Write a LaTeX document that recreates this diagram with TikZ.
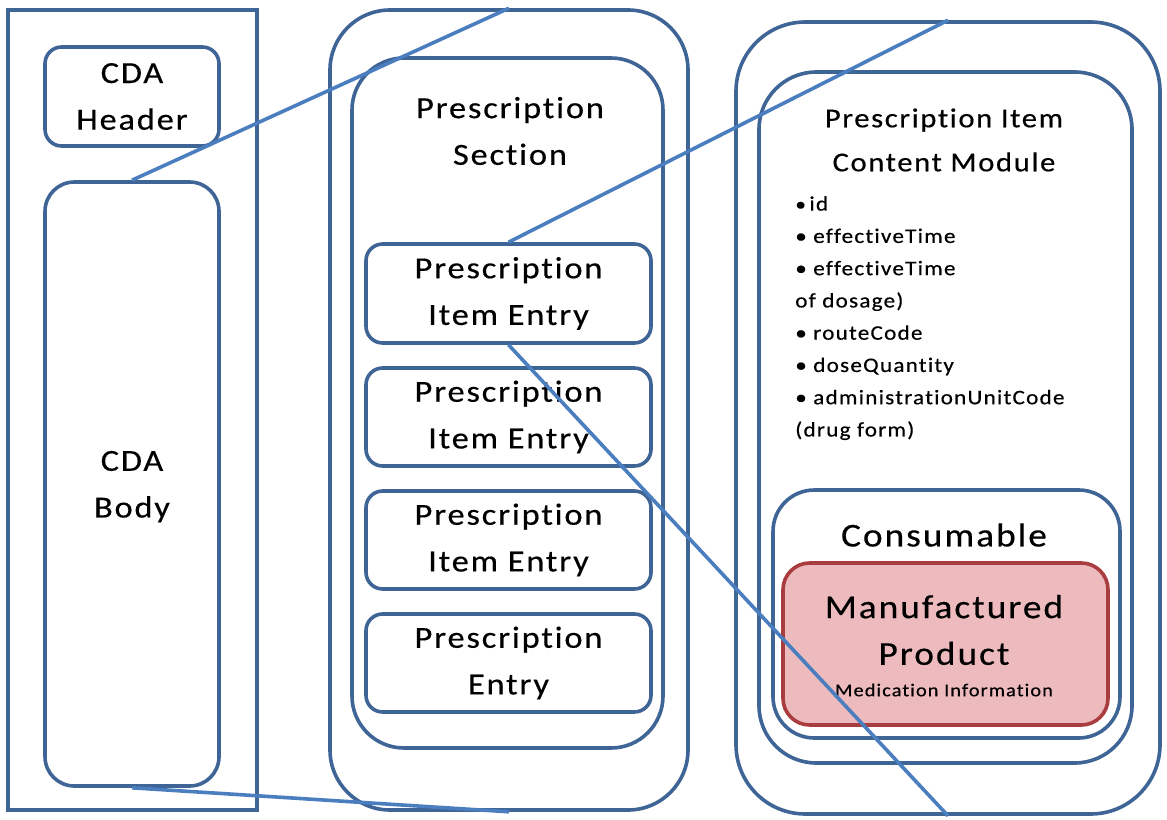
\documentclass[tikz,border=0pt]{standalone}
\usepackage{fontspec}
\setmainfont{Carlito}[FakeStretch=1.12,LetterSpace=6,Ligatures=CommonOff,FakeBold=0.4]
\usetikzlibrary{fit}
\definecolor{boxblue}{HTML}{3F6496}
\definecolor{linkblue}{HTML}{4A7EBF}
\definecolor{pinkfill}{HTML}{EDBABD}
\definecolor{pinkedge}{HTML}{A83C3E}
\begin{document}
\begin{tikzpicture}[x=0.75pt,y=-0.75pt,
  box/.style={draw=boxblue, line width=2.7pt, inner sep=0pt},
  pinkbox/.style={draw=pinkedge, fill=pinkfill, line width=2.7pt, inner sep=0pt},
  link/.style={draw=linkblue, line width=2.7pt},
  biglbl/.style={align=center, inner sep=0pt, font=\fontsize{23}{35}\selectfont},
  modlbl/.style={align=center, inner sep=0pt, font=\fontsize{20.5}{33}\selectfont},
  prodlbl/.style={align=center, inner sep=0pt, font=\fontsize{25}{35}\selectfont},
  smalllbl/.style={align=center, inner sep=0pt, font=\fontsize{13.6}{16}\selectfont},
  fieldlbl/.style={align=left, inner sep=0pt, font=\fontsize{15.5}{24.2}\selectfont}]
\useasboundingbox (0,0) rectangle (1167,820);
% left column
\node[box, fit={(8,10)(257,810)}] (doc) {};
\node[box, rounded corners=12.5pt, fit={(45,47)(219,146)}] (hdr) {};
\node[box, rounded corners=22pt, fit={(45,182)(219,786)}] (body) {};
\node[biglbl] (hdrtxt) at (hdr.center) {CDA\\Header};
\node[biglbl] (bodytxt) at ([yshift=-2pt]body.center) {CDA\\Body};
% middle column
\node[box, rounded corners=45pt, fit={(330,10)(688,810)}] (midouter) {};
\node[box, rounded corners=39pt, fit={(352,58)(663,748)}] (midinner) {};
\node[biglbl] (sectxt) at (510,131) {Prescription\\Section};
\node[box, rounded corners=12.5pt, fit={(366,244)(651,343)}] (e1) {};
\node[box, rounded corners=12.5pt, fit={(366,368)(651,466)}] (e2) {};
\node[box, rounded corners=12.5pt, fit={(366,491)(651,589)}] (e3) {};
\node[box, rounded corners=12.5pt, fit={(366,614)(651,712)}] (e4) {};
\node[biglbl] (e1txt) at (e1.center) {Prescription\\Item Entry};
\node[biglbl] (e2txt) at (e2.center) {Prescription\\Item Entry};
\node[biglbl] (e3txt) at (e3.center) {Prescription\\Item Entry};
\node[biglbl] (e4txt) at (e4.center) {Prescription\\Entry};
% right column
\node[box, rounded corners=52pt, fit={(736,22)(1160,814)}] (rightouter) {};
\node[box, rounded corners=43pt, fit={(759,72)(1132,763)}] (rightinner) {};
\node[modlbl] (modtxt) at (944,140) {Prescription Item\\Content Module};
\node[fieldlbl, anchor=north west] (fields) at (795,196) {%
{\Large\textbullet}\,id\\
\textbullet\ effectiveTime\\
\textbullet\ effectiveTime\\
of dosage)\\
\textbullet\ routeCode\\
\textbullet\ doseQuantity\\
\textbullet\ administrationUnitCode\\
(drug form)};
\node[box, rounded corners=31pt, fit={(773,490)(1120,738)}] (cons) {};
\node[prodlbl] (constxt) at (944,535) {Consumable};
\node[pinkbox, rounded corners=20pt, fit={(783,563)(1108,725)}] (prod) {};
\node[prodlbl] (prodtxt) at (944,630) {Manufactured\\Product};
\node[smalllbl] (medtxt) at (944,690) {Medication Information};
% connectors
\draw[link] (body.north) -- (midouter.north);
\draw[link] (body.south) -- (midouter.south);
\draw[link] (e1.north) -- (rightouter.north);
\draw[link] (e1.south) -- (rightouter.south);
\end{tikzpicture}
\end{document}
